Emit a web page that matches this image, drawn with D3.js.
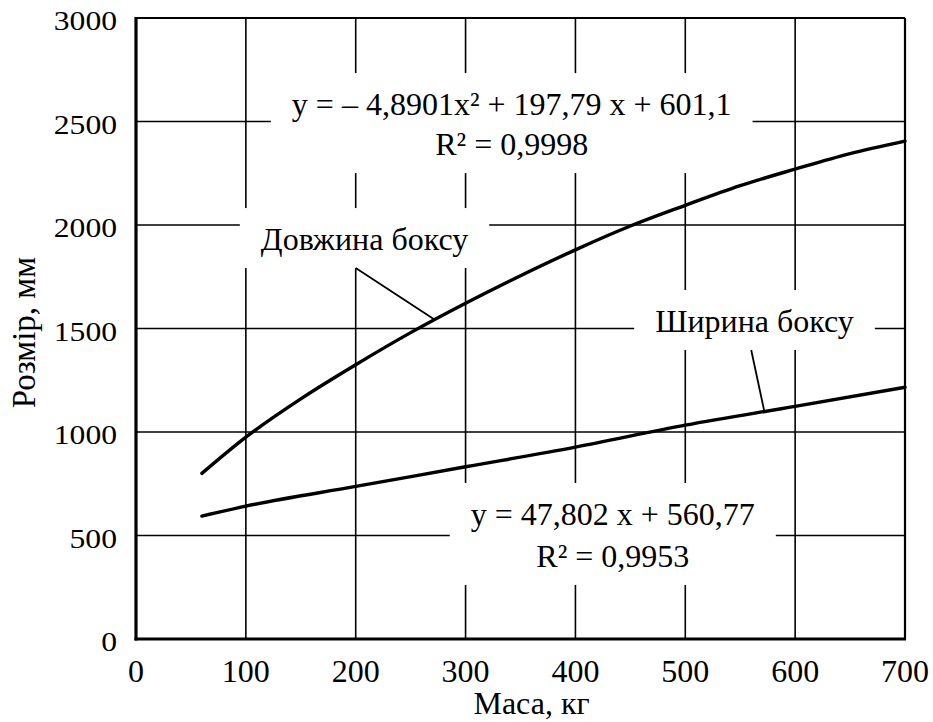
<!DOCTYPE html>
<html><head><meta charset="utf-8">
<script src="https://cdn.jsdelivr.net/npm/d3@7"></script>
</head><body style="margin:0">
<svg id="s" width="933" height="722"></svg>
<script>
// Axis ticks
const massTicks = [0, 100, 200, 300, 400, 500, 600, 700];
const sizeTicks = [0, 500, 1000, 1500, 2000, 2500, 3000];

// Box length, mm, against mass, kg
const lengthMass = [60, 100, 150, 200, 250, 300, 350, 400, 450, 500, 550, 600, 650, 700];
const lengthSize = [800, 975, 1160, 1325, 1480, 1622, 1755, 1880, 1995, 2095, 2190, 2270, 2345, 2405];

// Box width, mm, against mass, kg
const widthMass = [60, 100, 200, 300, 400, 500, 600, 700];
const widthSize = [594, 642, 737, 832, 927, 1033, 1124, 1216];

// Texts
const xTitle = "Маса, кг";
const yTitle = "Розмір, мм";
const lengthName = ["Довжина боксу"];
const widthName = ["Ширина боксу"];
const lengthFit = ["y = – 4,8901x² + 197,79 x + 601,1", "R² = 0,9998"];
const widthFit = ["y = 47,802 x + 560,77", "R² = 0,9953"];

const svg = d3.select("#s");
const x = d3.scaleLinear().domain([0, 700]).range([136, 905]);
const y = d3.scaleLinear().domain([0, 3000]).range([639, 18]);

function label(sel, size) {
  return sel.style("font-family", '"Liberation Serif", serif', "important").attr("font-size", size);
}

// grid
const grid = svg.append("g").attr("stroke", "black").attr("stroke-width", 1.6);
grid.selectAll("line.v").data(massTicks.slice(1, -1)).join("line")
  .attr("class", "v")
  .attr("x1", d => x(d)).attr("x2", d => x(d))
  .attr("y1", y(3000)).attr("y2", y(0));
grid.selectAll("line.h").data(sizeTicks.slice(1, -1)).join("line")
  .attr("class", "h")
  .attr("x1", x(0)).attr("x2", x(700))
  .attr("y1", d => y(d)).attr("y2", d => y(d));

// curves
const line = d3.line().curve(d3.curveMonotoneX).x(d => x(d[0])).y(d => y(d[1]));
[[lengthMass, lengthSize], [widthMass, widthSize]].forEach(([ms, ss]) => {
  svg.append("path")
    .datum(d3.zip(ms, ss))
    .attr("d", line).attr("fill", "none").attr("stroke", "black")
    .attr("stroke-width", 3.4).attr("stroke-linecap", "round");
});

function sizeAt(ms, ss, m) {
  const i = Math.max(1, Math.min(ms.length - 1, d3.bisectLeft(ms, m)));
  const t = (m - ms[i - 1]) / (ms[i] - ms[i - 1]);
  return ss[i - 1] + t * (ss[i] - ss[i - 1]);
}

// annotation blocks with a white backing that cuts the grid
function note(lines, mass, size, fontSize, lineGap) {
  const g = svg.append("g");
  const bg = g.append("rect").attr("fill", "white");
  const t = label(g.append("text"), fontSize).attr("text-anchor", "middle");
  lines.forEach((s, i) => {
    t.append("tspan").attr("x", x(mass)).attr("y", y(size) + i * lineGap).text(s);
  });
  const bb = t.node().getBBox();
  const box = { x0: bb.x - 21, x1: bb.x + bb.width + 21, y0: bb.y - 13, y1: bb.y + bb.height + 11 };
  bg.attr("x", box.x0).attr("y", box.y0)
    .attr("width", box.x1 - box.x0).attr("height", box.y1 - box.y0);
  return box;
}

note(lengthFit, 342, 2531, 32, 40);
note(widthFit, 434, 551, 32, 42);
const lenBox = note(lengthName, 208, 1879, 32, 0);
const widBox = note(widthName, 563, 1483, 32, 0);

// leader lines from the labels to their curves
function leader(box, fromMass, toMass, ms, ss) {
  svg.append("line")
    .attr("x1", x(fromMass)).attr("y1", box.y1)
    .attr("x2", x(toMass)).attr("y2", y(sizeAt(ms, ss, toMass)))
    .attr("stroke", "black").attr("stroke-width", 1.8);
}
leader(lenBox, 200, 272, lengthMass, lengthSize);
leader(widBox, 560, 572, widthMass, widthSize);

// frame: heavy left and bottom axes, lighter top and right edges
svg.append("line").attr("x1", x(0)).attr("x2", x(700)).attr("y1", y(3000)).attr("y2", y(3000))
  .attr("stroke", "black").attr("stroke-width", 2.2);
svg.append("line").attr("x1", x(700)).attr("x2", x(700)).attr("y1", y(3000)).attr("y2", y(0))
  .attr("stroke", "black").attr("stroke-width", 2.2);
svg.append("line").attr("x1", x(0)).attr("x2", x(0)).attr("y1", y(3000) - 1).attr("y2", y(0) + 1.5)
  .attr("stroke", "black").attr("stroke-width", 3.2);
svg.append("line").attr("x1", x(0) - 1.5).attr("x2", x(700) + 1).attr("y1", y(0)).attr("y2", y(0))
  .attr("stroke", "black").attr("stroke-width", 3.2);

// tick labels
label(svg.append("g").selectAll("text").data(sizeTicks).join("text"), 28)
  .attr("transform", d => `translate(${x(0) - 19},${y(d) + 12}) scale(1.13,1)`)
  .attr("text-anchor", "end")
  .text(d => d);
label(svg.append("g").selectAll("text").data(massTicks).join("text"), 32)
  .attr("x", d => x(d)).attr("y", y(0) + 43)
  .attr("text-anchor", "middle")
  .text(d => d);

// axis titles
label(svg.append("text"), 32)
  .attr("x", x(360)).attr("y", 714)
  .attr("text-anchor", "middle")
  .text(xTitle);
label(svg.append("text"), 33)
  .attr("transform", `translate(35,${y(1480)}) rotate(-90)`)
  .attr("text-anchor", "middle")
  .text(yTitle);
</script></body></html>
